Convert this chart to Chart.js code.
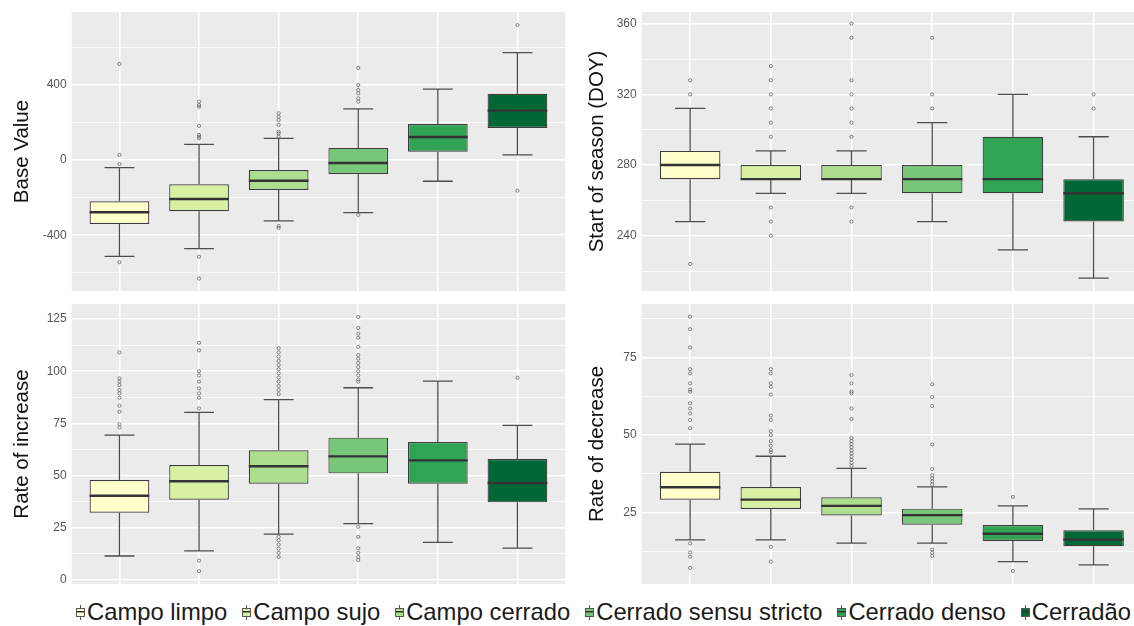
<!DOCTYPE html>
<html>
<head>
<meta charset="utf-8">
<script src="https://cdn.jsdelivr.net/npm/chart.js@4.4.1/dist/chart.umd.min.js"></script>
<style>
  body { margin: 0; width: 1134px; height: 626px; overflow: hidden; background: #fff; position: relative;
         font-family: "Liberation Sans", Arial, sans-serif; }
  canvas { position: absolute; }
  #legend { position: absolute; left: 76px; top: 598px; display: flex; align-items: center; white-space: nowrap;
            font-size: 23.8px; color: #1a1a1a; }
  .item { display: flex; align-items: center; margin-right: 15px; }
  .item:last-child { margin-right: 0; }
  .key { position: relative; width: 9px; height: 15px; margin-right: 2px;
         background: linear-gradient(#555, #555) center / 1px 100% no-repeat; }
  .key span { position: absolute; left: 0; right: 0; top: 3px; bottom: 3px; border: 1px solid #555;
              background-image: linear-gradient(#333, #333); background-size: 100% 1.5px;
              background-position: center; background-repeat: no-repeat; }
</style>
</head>
<body>
<div id="legend"></div>
<script>
const categories = ['Campo limpo', 'Campo sujo', 'Campo cerrado', 'Cerrado sensu stricto', 'Cerrado denso', 'Cerradão'];
const fills = ['#ffffcc', '#d9f0a3', '#addd8e', '#78c679', '#31a354', '#006837'];

// Base Value
const baseLow = [-512, -471, -324, -280, -113, 27];
const baseQ1 = [-340, -272, -159, -74, 44, 170];
const baseMedian = [-278, -207, -110, -16, 122, 262];
const baseQ3 = [-219, -129, -53, 64, 191, 352];
const baseHigh = [-41, 83, 115, 271, 376, 570];
const baseOutliers = [
  [510, 27, -21, -543],
  [310, 292, 283, 181, 133, 124, 115, -514, -630],
  [248, 230, 212, 186, 150, 141, 124, -351, -361],
  [489, 398, 372, 354, 327, 310, -292],
  [],
  [717, -163]
];
const baseTicks = [-400, 0, 400];
const baseRange = [-696, 786];

// Start of season (DOY)
const sosLow = [248, 264, 264, 248, 232, 216];
const sosQ1 = [272, 272, 272, 264, 264, 248];
const sosMedian = [280, 272, 272, 272, 272, 264];
const sosQ3 = [288, 280, 280, 280, 296, 272];
const sosHigh = [312, 288, 288, 304, 320, 296];
const sosOutliers = [
  [328, 320, 224],
  [336, 328, 320, 312, 304, 296, 256, 248, 240],
  [360, 352, 328, 320, 312, 304, 296, 256, 248],
  [352, 320, 312],
  [],
  [320, 312]
];
const sosTicks = [240, 280, 320, 360];
const sosRange = [208.7, 366.6];

// Rate of increase
const incLow = [11.5, 14, 22, 27, 18, 15.3];
const incQ1 = [32.2, 38.5, 46.1, 51.1, 46.1, 37.2];
const incMedian = [40.4, 47.3, 54.5, 59.2, 57.3, 46.5];
const incQ3 = [47.9, 55.1, 62.1, 68.2, 66.1, 58];
const incHigh = [69.4, 80.3, 86.4, 92.1, 95.3, 74.1];
const incOutliers = [
  [109, 96.6, 95, 93.4, 91, 89.4, 87.3, 83.5, 80.6, 74.6, 73],
  [113.6, 110, 100, 98, 95, 91.8, 89.4, 87.3, 82.2, 9.3, 4.3],
  [111, 109, 107, 105, 103, 101, 99, 97, 95, 93, 91, 89, 20.7, 19, 17, 15, 13, 11],
  [126, 120.7, 118, 116, 111.7, 107.8, 106, 104, 102, 100, 98, 96, 95, 25.5, 20.7, 15.2, 13, 11, 9.6],
  [],
  [96.9]
];
const incTicks = [0, 25, 50, 75, 100, 125];
const incRange = [-1.9, 132.2];

// Rate of decrease
const decLow = [16.1, 16.1, 15.1, 15.1, 9.1, 8.1];
const decQ1 = [29.1, 26.1, 24, 21, 15.8, 14.1];
const decMedian = [33.1, 29.1, 27.1, 24.1, 18.1, 16.2];
const decQ3 = [38.1, 33.2, 29.9, 26.2, 20.9, 19.2];
const decHigh = [47, 43.1, 39.2, 33.2, 27.1, 26.1];
const decOutliers = [
  [88.1, 84.1, 78.2, 71.2, 69.8, 66.6, 64.6, 63.9, 60.2, 58.5, 56.9, 54.8, 52.1, 15, 12.1, 10.7, 7.1],
  [71.2, 69.8, 66.6, 65.5, 63, 56.2, 54.8, 51.2, 49.9, 48, 46.5, 45.1, 44.4, 13.9, 9.1],
  [69.3, 66.6, 64, 63.4, 58.5, 55.1, 49, 48, 47, 46, 45, 44, 43, 42, 41, 40],
  [66.3, 62.2, 59.3, 46.9, 39, 37, 36, 35, 34, 13, 12, 11],
  [30, 6.1],
  []
];
const decTicks = [25, 50, 75];
const decRange = [1.9, 92.2];

Chart.defaults.font.family = '"Liberation Sans", Arial, sans-serif';

const panelBg = {
  id: 'panelBg',
  beforeDraw(chart) {
    const {ctx, chartArea: a} = chart;
    ctx.save();
    ctx.fillStyle = '#ebebeb';
    ctx.fillRect(a.left, a.top, a.right - a.left, a.bottom - a.top);
    ctx.restore();
  }
};

const panels = [
  {title: 'Base Value', left: 0, top: 0, w: 570, pad: {top: 12, bottom: 9, left: 0, right: 2}, titlePad: 9.7,
   low: baseLow, q1: baseQ1, med: baseMedian, q3: baseQ3, high: baseHigh, out: baseOutliers, ticks: baseTicks, range: baseRange},
  {title: 'Start of season (DOY)', left: 570, top: 0, w: 580, pad: {top: 12, bottom: 9, left: 0, right: 8}, titlePad: 14.7,
   low: sosLow, q1: sosQ1, med: sosMedian, q3: sosQ3, high: sosHigh, out: sosOutliers, ticks: sosTicks, range: sosRange},
  {title: 'Rate of increase', left: 0, top: 295, w: 570, pad: {top: 9, bottom: 11, left: 0, right: 2}, titlePad: 9.7,
   low: incLow, q1: incQ1, med: incMedian, q3: incQ3, high: incHigh, out: incOutliers, ticks: incTicks, range: incRange},
  {title: 'Rate of decrease', left: 570, top: 295, w: 580, pad: {top: 9, bottom: 11, left: 0, right: 8}, titlePad: 14.7,
   low: decLow, q1: decQ1, med: decMedian, q3: decQ3, high: decHigh, out: decOutliers, ticks: decTicks, range: decRange}
];

const boxWidth = 0.75;
const capHalf = 0.1875;

function drawPanel(p) {
  const canvas = document.createElement('canvas');
  canvas.width = p.w;
  canvas.height = 300;
  canvas.style.left = p.left + 'px';
  canvas.style.top = p.top + 'px';
  document.body.appendChild(canvas);

  const idx = categories.map((c, i) => i);
  const step = p.ticks[1] - p.ticks[0];
  const minors = [];
  for (let v = p.ticks[0] - step / 2; v <= p.range[1]; v += step) {
    if (v >= p.range[0]) minors.push(v);
  }
  const yTicks = p.ticks.concat(minors).sort((a, b) => a - b);

  const whiskers = [];
  const medians = [];
  idx.forEach(i => {
    whiskers.push(
      {x: i, y: p.q3[i]}, {x: i, y: p.high[i]}, {x: i, y: null},
      {x: i - capHalf, y: p.high[i]}, {x: i + capHalf, y: p.high[i]}, {x: i, y: null},
      {x: i, y: p.q1[i]}, {x: i, y: p.low[i]}, {x: i, y: null},
      {x: i - capHalf, y: p.low[i]}, {x: i + capHalf, y: p.low[i]}, {x: i, y: null}
    );
    medians.push({x: i - boxWidth / 2, y: p.med[i]}, {x: i + boxWidth / 2, y: p.med[i]}, {x: i, y: null});
  });
  const outliers = [];
  p.out.forEach((vals, i) => vals.forEach(v => outliers.push({x: i, y: v})));

  new Chart(canvas, {
    type: 'bar',
    data: {
      datasets: [
        {type: 'line', data: medians, borderColor: '#333', borderWidth: 2.4, pointRadius: 0, spanGaps: false},
        {type: 'bar', data: idx.map(i => ({x: i, y: [p.q1[i], p.q3[i]]})), backgroundColor: fills,
         borderColor: '#3d3d3d', borderWidth: 1.2, borderSkipped: false,
         categoryPercentage: 1, barPercentage: boxWidth},
        {type: 'line', data: outliers, showLine: false, pointRadius: 1.6, pointBorderWidth: 0.8,
         pointBorderColor: '#666', pointBackgroundColor: 'rgba(0,0,0,0)'},
        {type: 'line', data: whiskers, borderColor: '#4d4d4d', borderWidth: 1.3, pointRadius: 0, spanGaps: false}
      ]
    },
    options: {
      responsive: false,
      animation: false,
      devicePixelRatio: 1,
      layout: {padding: p.pad},
      plugins: {legend: {display: false}, tooltip: {enabled: false}},
      scales: {
        x: {
          type: 'linear', min: -0.6, max: 5.6, offset: false,
          afterBuildTicks: s => { s.ticks = idx.map(v => ({value: v})); },
          afterFit: s => { s.height = 0; s.paddingLeft = 0; s.paddingRight = 0; },
          ticks: {display: false},
          border: {display: false},
          grid: {color: '#fff', lineWidth: 1.6, drawTicks: false, offset: false}
        },
        y: {
          min: p.range[0], max: p.range[1],
          afterBuildTicks: s => { s.ticks = yTicks.map(v => ({value: v})); },
          afterFit: s => { s.width = 71.7; s.paddingTop = 0; s.paddingBottom = 0; },
          ticks: {
            autoSkip: false, color: '#555', font: {size: 12}, padding: 5,
            callback: v => p.ticks.includes(v) ? String(v) : ''
          },
          border: {display: false},
          grid: {color: '#fff', drawTicks: false,
                 lineWidth: c => (c.tick && p.ticks.includes(c.tick.value)) ? 1.6 : 0.8},
          title: {display: true, text: p.title, color: '#111', font: {size: 20.5},
                  padding: {top: p.titlePad, bottom: 0}}
        }
      }
    },
    plugins: [panelBg]
  });
}

panels.forEach(drawPanel);

// shared legend for the six vegetation classes
const legend = document.getElementById('legend');
categories.forEach((name, i) => {
  const item = document.createElement('div');
  item.className = 'item';
  const key = document.createElement('span');
  key.className = 'key';
  const box = document.createElement('span');
  box.style.backgroundColor = fills[i];
  key.appendChild(box);
  const label = document.createElement('span');
  label.textContent = name;
  item.appendChild(key);
  item.appendChild(label);
  legend.appendChild(item);
});
</script>
</body>
</html>
